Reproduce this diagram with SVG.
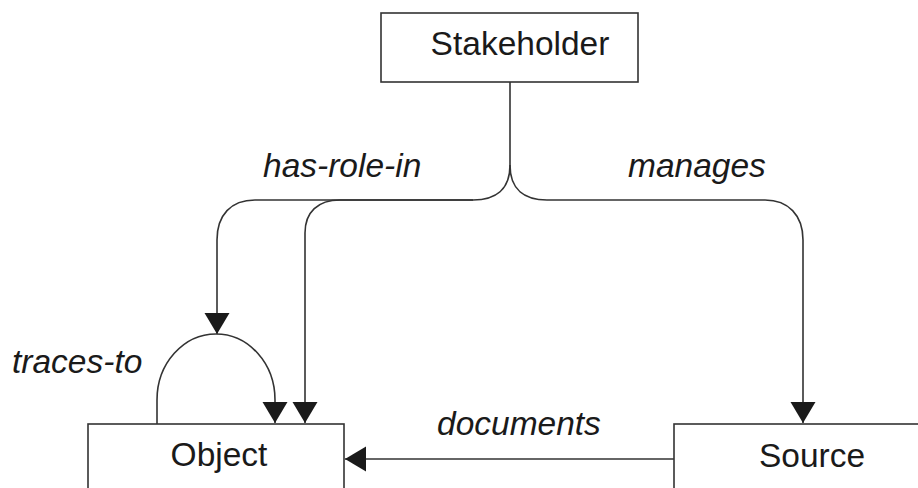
<svg xmlns="http://www.w3.org/2000/svg" width="918" height="488" viewBox="0 0 918 488">
<style>
.box{fill:#fff;stroke:#333;stroke-width:1.6}
.lbl{font-family:"Liberation Sans",Arial,sans-serif;font-size:33.5px;fill:#1a1a1a}
.it{font-style:italic}
.ln{fill:none;stroke:#333;stroke-width:1.6}
</style>
<defs>
<marker id="ah" markerUnits="userSpaceOnUse" markerWidth="22" markerHeight="26" refX="21" refY="12.5" orient="auto">
<path d="M0,0 L21,12.5 L0,25 z" fill="#1a1a1a"/>
</marker>
</defs>
<rect width="918" height="488" fill="#fff"/>
<g id="connectors">
<path class="ln" d="M510,82 V165 C510,190 495,200 473,200 H255 C231,200 217,215 217,240 V334" marker-end="url(#ah)"/>
<path class="ln" d="M473,200 H340 C318,200 305,212 305,233 V423" marker-end="url(#ah)"/>
<path class="ln" d="M510,165 C510,190 525,200 547,200 H765 C788,200 803,215 803,240 V423" marker-end="url(#ah)"/>
<path class="ln" d="M157,424 V400 A59,66 0 0 1 275,400 V423" marker-end="url(#ah)"/>
<path class="ln" d="M674,459 H345" marker-end="url(#ah)"/>
<text class="lbl it" x="263" y="177">has-role-in</text>
<text class="lbl it" x="628" y="177">manages</text>
<text class="lbl it" x="12" y="373">traces-to</text>
<text class="lbl it" x="437" y="435">documents</text>
</g>
<g id="stakeholder">
<rect class="box" x="381" y="13" width="257" height="69"/>
<text class="lbl" x="520" y="55" text-anchor="middle">Stakeholder</text>
</g>
<g id="object">
<rect class="box" x="88" y="424" width="256" height="80"/>
<text class="lbl" x="219" y="466" text-anchor="middle">Object</text>
</g>
<g id="source">
<rect class="box" x="674" y="424" width="260" height="80"/>
<text class="lbl" x="812" y="467" text-anchor="middle">Source</text>
</g>
</svg>
